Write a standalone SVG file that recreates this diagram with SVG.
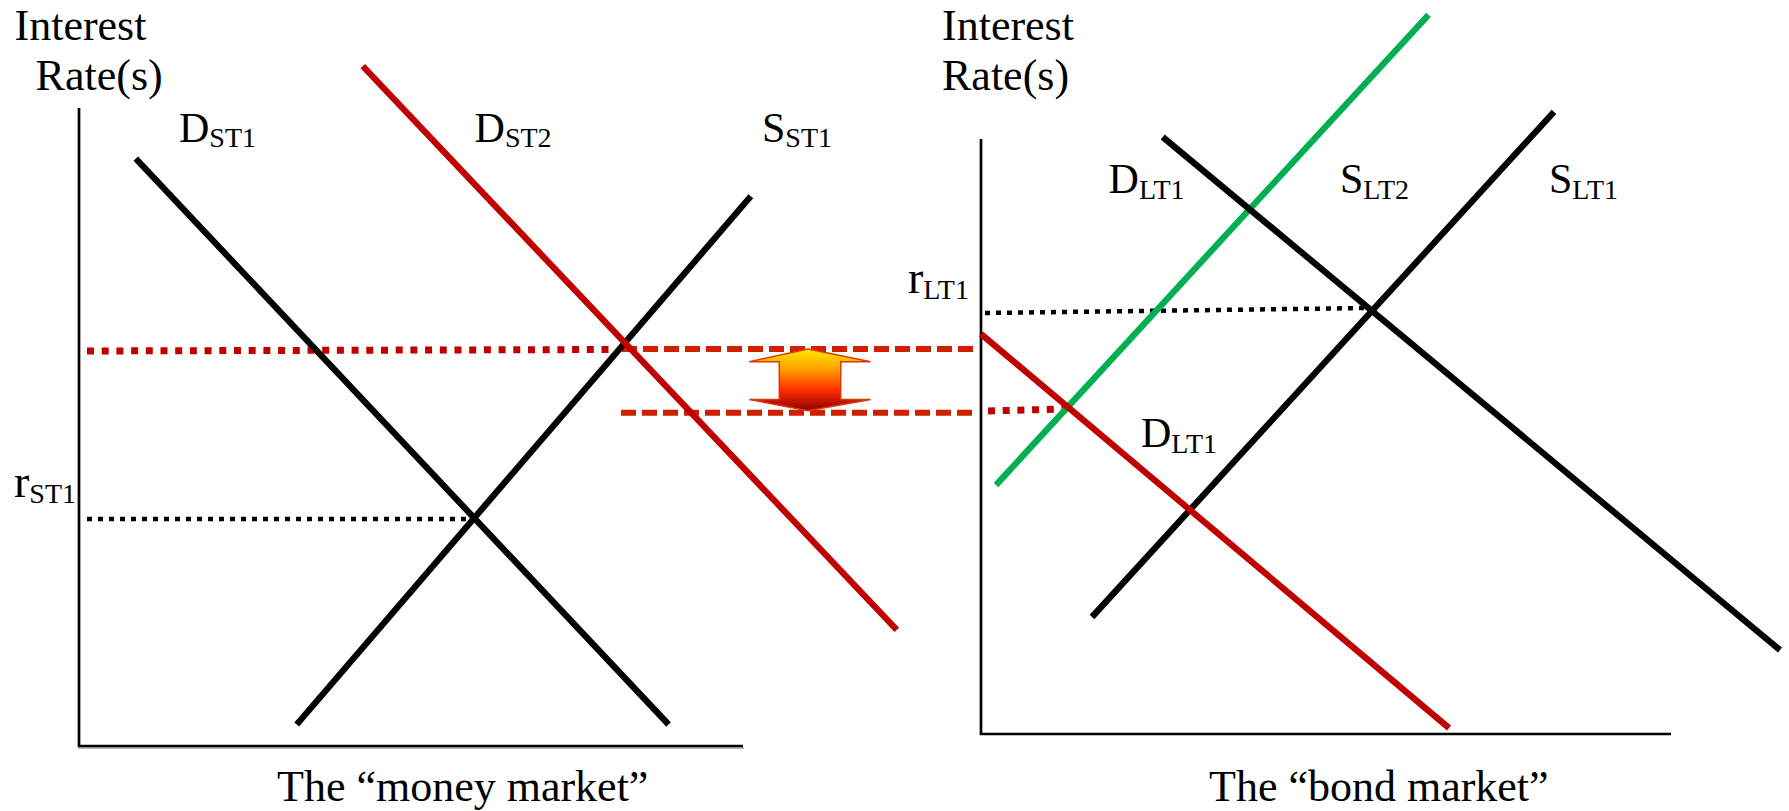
<svg xmlns="http://www.w3.org/2000/svg" width="1789" height="811" viewBox="0 0 1789 811">
<style>
text{font-family:"Liberation Serif","Times New Roman",serif;fill:#000}
.big{font-size:44px}
.lab{font-size:42px}
.rl{font-size:46px}
.sub{font-size:28px}
.axis{stroke:#000;stroke-width:2.7;fill:none}
.blk{stroke:#000;stroke-width:6.3;fill:none}
.red{stroke:#C00000;stroke-width:6.3;fill:none}
.grn{stroke:#00B050;stroke-width:6.3;fill:none}
.dotk{stroke:#000;stroke-width:4.5;stroke-dasharray:5 6;fill:none}
.dotr{stroke:#C00000;stroke-width:7;stroke-dasharray:7 7.7;fill:none}
.dash{stroke:#D02000;stroke-width:6;stroke-dasharray:15 6;fill:none}
</style>
<defs>
<linearGradient id="ag" x1="0" y1="0" x2="0" y2="1">
<stop offset="0" stop-color="#FFEA00"/>
<stop offset="0.35" stop-color="#FF9A00"/>
<stop offset="0.68" stop-color="#FF2A00"/>
<stop offset="1" stop-color="#8A0000"/>
</linearGradient>
</defs>

<g id="money-market-axes">
<line class="axis" x1="79" y1="108" x2="79" y2="747"/>
<line x1="78" y1="748" x2="744" y2="748" stroke="#bbb" stroke-width="2"/>
<line class="axis" x1="78" y1="746" x2="743" y2="746" stroke-width="3"/>
<text class="big" x="14.5" y="40">Interest</text>
<text class="big" x="35.6" y="90">Rate(s)</text>
<text class="big" x="277" y="801">The “money market”</text>
</g>

<g id="bond-market-axes">
<line class="axis" x1="981" y1="139" x2="981" y2="735"/>
<line class="axis" x1="980" y1="734" x2="1671" y2="734" stroke-width="3"/>
<text class="big" x="942" y="40">Interest</text>
<text class="big" x="942" y="90">Rate(s)</text>
<text class="big" x="1209" y="801">The “bond market”</text>
</g>

<g id="connectors">
<line class="dotk" x1="87" y1="519" x2="472" y2="519"/>
<line class="dotr" x1="87" y1="351" x2="615" y2="349.5"/>
<line class="dash" x1="622" y1="349" x2="973" y2="349"/>
<line class="dash" x1="621" y1="412.7" x2="973" y2="412.7"/>
<line class="dotk" x1="985" y1="313" x2="1368" y2="308"/>
<line class="dotr" x1="988" y1="411" x2="1066" y2="409"/>
</g>

<g id="D_ST1">
<line class="blk" x1="135.8" y1="158.6" x2="668.6" y2="724.5"/>
<text class="lab" x="179" y="142">D<tspan class="sub" dy="5">ST1</tspan></text>
</g>
<g id="S_ST1">
<line class="blk" x1="296.7" y1="724.5" x2="750.8" y2="196.3"/>
<text class="lab" x="762" y="142">S<tspan class="sub" dy="5">ST1</tspan></text>
</g>
<g id="D_ST2">
<line class="red" x1="362.8" y1="66.2" x2="896.8" y2="629.8"/>
<text class="lab" x="474.6" y="142">D<tspan class="sub" dy="5">ST2</tspan></text>
</g>
<g id="r_ST1">
<text class="rl" x="14" y="497">r<tspan class="sub" dy="6">ST1</tspan></text>
</g>

<g id="S_LT2">
<line class="grn" x1="996" y1="485" x2="1428.5" y2="14.8"/>
<text class="lab" x="1340" y="193">S<tspan class="sub" dy="6">LT2</tspan></text>
</g>
<g id="D_LT1_upper">
<line class="blk" x1="1162.7" y1="137" x2="1780" y2="650"/>
<text class="lab" x="1108.6" y="193">D<tspan class="sub" dy="6">LT1</tspan></text>
</g>
<g id="S_LT1">
<line class="blk" x1="1092" y1="617" x2="1554" y2="111.8"/>
<text class="lab" x="1549" y="193">S<tspan class="sub" dy="6">LT1</tspan></text>
</g>
<g id="D_LT1_lower">
<line class="red" x1="981" y1="334" x2="1449" y2="728"/>
<text class="lab" x="1141" y="447">D<tspan class="sub" dy="6">LT1</tspan></text>
</g>
<g id="r_LT1">
<text class="rl" x="908" y="293">r<tspan class="sub" dy="6">LT1</tspan></text>
</g>

<g id="shift-arrow">
<path d="M808,349 L870.7,361.7 L840.7,361.7 L840.7,399.5 L870.7,399.5 L808,410.7 L749.3,399.5 L779.3,399.5 L779.3,361.7 L749.3,361.7 Z" fill="url(#ag)" stroke="#E03800" stroke-width="1.5" stroke-linejoin="miter"/>
</g>
</svg>
